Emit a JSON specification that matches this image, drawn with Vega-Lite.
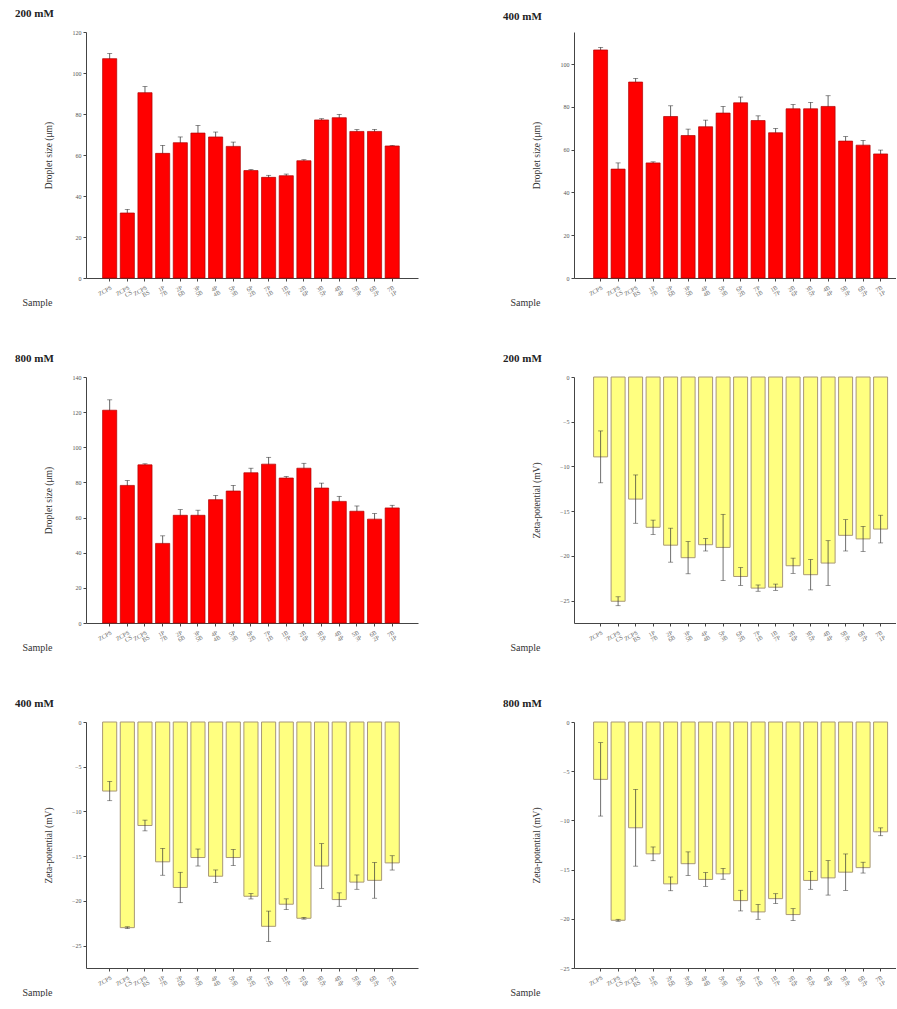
{
  "$schema": "https://vega.github.io/schema/vega-lite/v6.json",
  "padding": {"left": 15, "top": 8, "right": 0, "bottom": 0},
  "background": "white",
  "datasets": {
    "size200": [
      {"sample": "ZCPS", "v": 107, "e": 2.5},
      {"sample": "ZCPS-CS", "v": 31.7, "e": 1.8},
      {"sample": "ZCPS-BS", "v": 90.4, "e": 3},
      {"sample": "1P-7B", "v": 60.8, "e": 3.9},
      {"sample": "2P-6B", "v": 66, "e": 2.8},
      {"sample": "3P-5B", "v": 70.7, "e": 3.7},
      {"sample": "4P-4B", "v": 68.8, "e": 2.4},
      {"sample": "5P-3B", "v": 64.2, "e": 2.1},
      {"sample": "6P-2B", "v": 52.4, "e": 0.5},
      {"sample": "7P-1B", "v": 49.1, "e": 1},
      {"sample": "1B-7P", "v": 49.9, "e": 0.8},
      {"sample": "2B-6P", "v": 57.2, "e": 0.5},
      {"sample": "3B-5P", "v": 77.1, "e": 0.6},
      {"sample": "4B-4P", "v": 78.2, "e": 1.6},
      {"sample": "5B-3P", "v": 71.5, "e": 0.9},
      {"sample": "6B-2P", "v": 71.5, "e": 1},
      {"sample": "7B-1P", "v": 64.4, "e": 0.3}
    ],
    "size400": [
      {"sample": "ZCPS", "v": 106.6, "e": 1.2},
      {"sample": "ZCPS-CS", "v": 50.9, "e": 2.9},
      {"sample": "ZCPS-BS", "v": 91.6, "e": 1.7},
      {"sample": "1P-7B", "v": 53.8, "e": 0.5},
      {"sample": "2P-6B", "v": 75.5, "e": 5},
      {"sample": "3P-5B", "v": 66.6, "e": 3},
      {"sample": "4P-4B", "v": 70.7, "e": 3.1},
      {"sample": "5P-3B", "v": 77.1, "e": 3.1},
      {"sample": "6P-2B", "v": 81.9, "e": 2.7},
      {"sample": "7P-1B", "v": 73.6, "e": 2.2},
      {"sample": "1B-7P", "v": 67.9, "e": 2},
      {"sample": "2B-6P", "v": 79.1, "e": 2},
      {"sample": "3B-5P", "v": 79.1, "e": 3},
      {"sample": "4B-4P", "v": 80.2, "e": 5},
      {"sample": "5B-3P", "v": 64, "e": 2.1},
      {"sample": "6B-2P", "v": 62.1, "e": 2.2},
      {"sample": "7B-1P", "v": 58, "e": 1.8}
    ],
    "size800": [
      {"sample": "ZCPS", "v": 121.1, "e": 5.9},
      {"sample": "ZCPS-CS", "v": 78.3, "e": 2.8},
      {"sample": "ZCPS-BS", "v": 90, "e": 0.6},
      {"sample": "1P-7B", "v": 45.3, "e": 4.3},
      {"sample": "2P-6B", "v": 61.3, "e": 3.2},
      {"sample": "3P-5B", "v": 61.3, "e": 2.9},
      {"sample": "4P-4B", "v": 70.2, "e": 2.4},
      {"sample": "5P-3B", "v": 75.1, "e": 3.2},
      {"sample": "6P-2B", "v": 85.5, "e": 2.6},
      {"sample": "7P-1B", "v": 90.4, "e": 3.9},
      {"sample": "1B-7P", "v": 82.5, "e": 0.9},
      {"sample": "2B-6P", "v": 88.1, "e": 2.8},
      {"sample": "3B-5P", "v": 76.8, "e": 2.8},
      {"sample": "4B-4P", "v": 69.2, "e": 2.9},
      {"sample": "5B-3P", "v": 63.6, "e": 3},
      {"sample": "6B-2P", "v": 59.1, "e": 3.2},
      {"sample": "7B-1P", "v": 65.5, "e": 1.5}
    ],
    "zeta200": [
      {"sample": "ZCPS", "v": -8.93, "e": 2.9},
      {"sample": "ZCPS-CS", "v": -25.07, "e": 0.5},
      {"sample": "ZCPS-BS", "v": -13.65, "e": 2.7},
      {"sample": "1P-7B", "v": -16.8, "e": 0.8},
      {"sample": "2P-6B", "v": -18.8, "e": 1.9},
      {"sample": "3P-5B", "v": -20.2, "e": 1.8},
      {"sample": "4P-4B", "v": -18.75, "e": 0.7},
      {"sample": "5P-3B", "v": -19.05, "e": 3.7},
      {"sample": "6P-2B", "v": -22.3, "e": 1.0},
      {"sample": "7P-1B", "v": -23.6, "e": 0.35},
      {"sample": "1B-7P", "v": -23.5, "e": 0.35},
      {"sample": "2B-6P", "v": -21.1, "e": 0.85},
      {"sample": "3B-5P", "v": -22.1, "e": 1.7},
      {"sample": "4B-4P", "v": -20.8, "e": 2.5},
      {"sample": "5B-3P", "v": -17.7, "e": 1.75},
      {"sample": "6B-2P", "v": -18.1, "e": 1.4},
      {"sample": "7B-1P", "v": -17.0, "e": 1.55}
    ],
    "zeta400": [
      {"sample": "ZCPS", "v": -7.72, "e": 1.08},
      {"sample": "ZCPS-CS", "v": -22.99, "e": 0.1},
      {"sample": "ZCPS-BS", "v": -11.57, "e": 0.6},
      {"sample": "1P-7B", "v": -15.63, "e": 1.5},
      {"sample": "2P-6B", "v": -18.5, "e": 1.7},
      {"sample": "3P-5B", "v": -15.15, "e": 0.95},
      {"sample": "4P-4B", "v": -17.24, "e": 0.7},
      {"sample": "5P-3B", "v": -15.15, "e": 0.9},
      {"sample": "6P-2B", "v": -19.48, "e": 0.3},
      {"sample": "7P-1B", "v": -22.84, "e": 1.7},
      {"sample": "1B-7P", "v": -20.37, "e": 0.6},
      {"sample": "2B-6P", "v": -21.94, "e": 0.1},
      {"sample": "3B-5P", "v": -16.1, "e": 2.5},
      {"sample": "4B-4P", "v": -19.85, "e": 0.75},
      {"sample": "5B-3P", "v": -17.9, "e": 0.8},
      {"sample": "6B-2P", "v": -17.7, "e": 2.0},
      {"sample": "7B-1P", "v": -15.75, "e": 0.8}
    ],
    "zeta800": [
      {"sample": "ZCPS", "v": -5.83, "e": 3.73},
      {"sample": "ZCPS-CS", "v": -20.15, "e": 0.1},
      {"sample": "ZCPS-BS", "v": -10.75, "e": 3.9},
      {"sample": "1P-7B", "v": -13.4, "e": 0.7},
      {"sample": "2P-6B", "v": -16.45, "e": 0.7},
      {"sample": "3P-5B", "v": -14.4, "e": 1.2},
      {"sample": "4P-4B", "v": -16.0, "e": 0.7},
      {"sample": "5P-3B", "v": -15.43, "e": 0.55},
      {"sample": "6P-2B", "v": -18.15, "e": 1.05},
      {"sample": "7P-1B", "v": -19.3, "e": 0.75},
      {"sample": "1B-7P", "v": -17.95, "e": 0.5},
      {"sample": "2B-6P", "v": -19.57, "e": 0.6},
      {"sample": "3B-5P", "v": -16.1, "e": 0.9},
      {"sample": "4B-4P", "v": -15.84, "e": 1.75},
      {"sample": "5B-3P", "v": -15.26, "e": 1.85},
      {"sample": "6B-2P", "v": -14.8, "e": 0.55},
      {"sample": "7B-1P", "v": -11.16, "e": 0.4}
    ]
  },
  "columns": 2,
  "spacing": {"row": 99, "column": 156},
  "bounds": "flush",
  "concat": [
    {
      "title": "200 mM",
      "width": 332, "height": 246,
      "data": {"name": "size200"},
      "encoding": {"x": {"field": "sample", "type": "nominal", "sort": null, "scale": {"paddingInner": 0.2, "paddingOuter": 1.085, "align": 0.47}, "axis": {"title": "Sample"}}},
      "layer": [
        {"mark": {"type": "errorbar", "ticks": {"size": 5}, "color": "#222", "thickness": 0.7},
         "encoding": {"y": {"field": "v", "type": "quantitative", "scale": {"domain": [0, 120], "nice": false}, "axis": {"values": [0, 20, 40, 60, 80, 100, 120], "title": "Droplet size (μm)"}}, "yError": {"field": "e"}}},
        {"mark": {"type": "bar", "fill": "#FF0000", "stroke": "#B00000", "strokeWidth": 0.7},
         "encoding": {"y": {"field": "v", "type": "quantitative", "scale": {"domain": [0, 120], "nice": false}, "axis": {"values": [0, 20, 40, 60, 80, 100, 120], "title": "Droplet size (μm)"}}}}
      ]
    },
    {
      "title": "400 mM",
      "width": 322, "height": 246,
      "data": {"name": "size400"},
      "encoding": {"x": {"field": "sample", "type": "nominal", "sort": null, "scale": {"paddingInner": 0.2, "paddingOuter": 0.8, "align": 0.7}, "axis": {"title": "Sample"}}},
      "layer": [
        {"mark": {"type": "errorbar", "ticks": {"size": 5}, "color": "#222", "thickness": 0.7},
         "encoding": {"y": {"field": "v", "type": "quantitative", "scale": {"domain": [0, 115], "nice": false}, "axis": {"values": [0, 20, 40, 60, 80, 100], "title": "Droplet size (μm)"}}, "yError": {"field": "e"}}},
        {"mark": {"type": "bar", "fill": "#FF0000", "stroke": "#B00000", "strokeWidth": 0.7},
         "encoding": {"y": {"field": "v", "type": "quantitative", "scale": {"domain": [0, 115], "nice": false}, "axis": {"values": [0, 20, 40, 60, 80, 100], "title": "Droplet size (μm)"}}}}
      ]
    },
    {
      "title": "800 mM",
      "width": 332, "height": 246,
      "data": {"name": "size800"},
      "encoding": {"x": {"field": "sample", "type": "nominal", "sort": null, "scale": {"paddingInner": 0.2, "paddingOuter": 1.085, "align": 0.47}, "axis": {"title": "Sample"}}},
      "layer": [
        {"mark": {"type": "errorbar", "ticks": {"size": 5}, "color": "#222", "thickness": 0.7},
         "encoding": {"y": {"field": "v", "type": "quantitative", "scale": {"domain": [0, 140], "nice": false}, "axis": {"values": [0, 20, 40, 60, 80, 100, 120, 140], "title": "Droplet size (μm)"}}, "yError": {"field": "e"}}},
        {"mark": {"type": "bar", "fill": "#FF0000", "stroke": "#B00000", "strokeWidth": 0.7},
         "encoding": {"y": {"field": "v", "type": "quantitative", "scale": {"domain": [0, 140], "nice": false}, "axis": {"values": [0, 20, 40, 60, 80, 100, 120, 140], "title": "Droplet size (μm)"}}}}
      ]
    },
    {
      "title": "200 mM",
      "width": 322, "height": 246,
      "data": {"name": "zeta200"},
      "encoding": {"x": {"field": "sample", "type": "nominal", "sort": null, "scale": {"paddingInner": 0.2, "paddingOuter": 0.8, "align": 0.7}, "axis": {"title": "Sample"}}},
      "layer": [
        {"mark": {"type": "bar", "fill": "#FFFF80", "stroke": "#A89878", "strokeWidth": 1},
         "encoding": {"y": {"field": "v", "type": "quantitative", "scale": {"domain": [-27.5, 0], "nice": false, "zero": false}, "axis": {"values": [0, -5, -10, -15, -20, -25], "title": "Zeta-potential (mV)"}}}},
        {"mark": {"type": "errorbar", "ticks": {"size": 5}, "color": "#333", "thickness": 0.7},
         "encoding": {"y": {"field": "v", "type": "quantitative", "scale": {"domain": [-27.5, 0], "nice": false, "zero": false}, "axis": {"values": [0, -5, -10, -15, -20, -25], "title": "Zeta-potential (mV)"}}, "yError": {"field": "e"}}},
        {"mark": {"type": "rule", "color": "#333", "strokeWidth": 1.2}, "encoding": {"y": {"datum": 0}}}
      ]
    },
    {
      "title": "400 mM",
      "width": 332, "height": 246,
      "data": {"name": "zeta400"},
      "encoding": {"x": {"field": "sample", "type": "nominal", "sort": null, "scale": {"paddingInner": 0.2, "paddingOuter": 1.085, "align": 0.47}, "axis": {"title": "Sample"}}},
      "layer": [
        {"mark": {"type": "bar", "fill": "#FFFF80", "stroke": "#A89878", "strokeWidth": 1},
         "encoding": {"y": {"field": "v", "type": "quantitative", "scale": {"domain": [-27.5, 0], "nice": false, "zero": false}, "axis": {"values": [0, -5, -10, -15, -20, -25], "title": "Zeta-potential (mV)"}}}},
        {"mark": {"type": "errorbar", "ticks": {"size": 5}, "color": "#333", "thickness": 0.7},
         "encoding": {"y": {"field": "v", "type": "quantitative", "scale": {"domain": [-27.5, 0], "nice": false, "zero": false}, "axis": {"values": [0, -5, -10, -15, -20, -25], "title": "Zeta-potential (mV)"}}, "yError": {"field": "e"}}},
        {"mark": {"type": "rule", "color": "#333", "strokeWidth": 1.2}, "encoding": {"y": {"datum": 0}}}
      ]
    },
    {
      "title": "800 mM",
      "width": 322, "height": 246,
      "data": {"name": "zeta800"},
      "encoding": {"x": {"field": "sample", "type": "nominal", "sort": null, "scale": {"paddingInner": 0.2, "paddingOuter": 0.8, "align": 0.7}, "axis": {"title": "Sample"}}},
      "layer": [
        {"mark": {"type": "bar", "fill": "#FFFF80", "stroke": "#A89878", "strokeWidth": 1},
         "encoding": {"y": {"field": "v", "type": "quantitative", "scale": {"domain": [-25, 0], "nice": false, "zero": false}, "axis": {"values": [0, -5, -10, -15, -20, -25], "title": "Zeta-potential (mV)"}}}},
        {"mark": {"type": "errorbar", "ticks": {"size": 5}, "color": "#333", "thickness": 0.7},
         "encoding": {"y": {"field": "v", "type": "quantitative", "scale": {"domain": [-25, 0], "nice": false, "zero": false}, "axis": {"values": [0, -5, -10, -15, -20, -25], "title": "Zeta-potential (mV)"}}, "yError": {"field": "e"}}},
        {"mark": {"type": "rule", "color": "#333", "strokeWidth": 1.2}, "encoding": {"y": {"datum": 0}}}
      ]
    }
  ],
  "config": {
    "view": {"stroke": null},
    "font": "Liberation Serif",
    "title": {"anchor": "start", "frame": "group", "dx": -71, "fontSize": 11, "fontWeight": "bold", "font": "Liberation Serif", "offset": 10, "color": "#222"},
    "axis": {"grid": false, "domainColor": "#444", "tickColor": "#444", "labelColor": "#555", "titleColor": "#333", "labelFont": "Liberation Serif", "titleFont": "Liberation Serif", "titleFontWeight": "normal", "tickSize": 3, "labelFontSize": 6, "titleFontSize": 9.5, "domainWidth": 1},
    "axisX": {"labelAngle": -30, "labelFontSize": 6, "labelColor": "#666", "labelExpr": "split(datum.label, '-')", "labelLineHeight": 5.5, "titleX": -64, "titleY": 24, "titleAlign": "left", "titleBaseline": "middle", "titleFontSize": 10, "labelPadding": 3},
    "axisY": {"titleX": -38, "titleBaseline": "middle", "labelPadding": 2}
  }
}
